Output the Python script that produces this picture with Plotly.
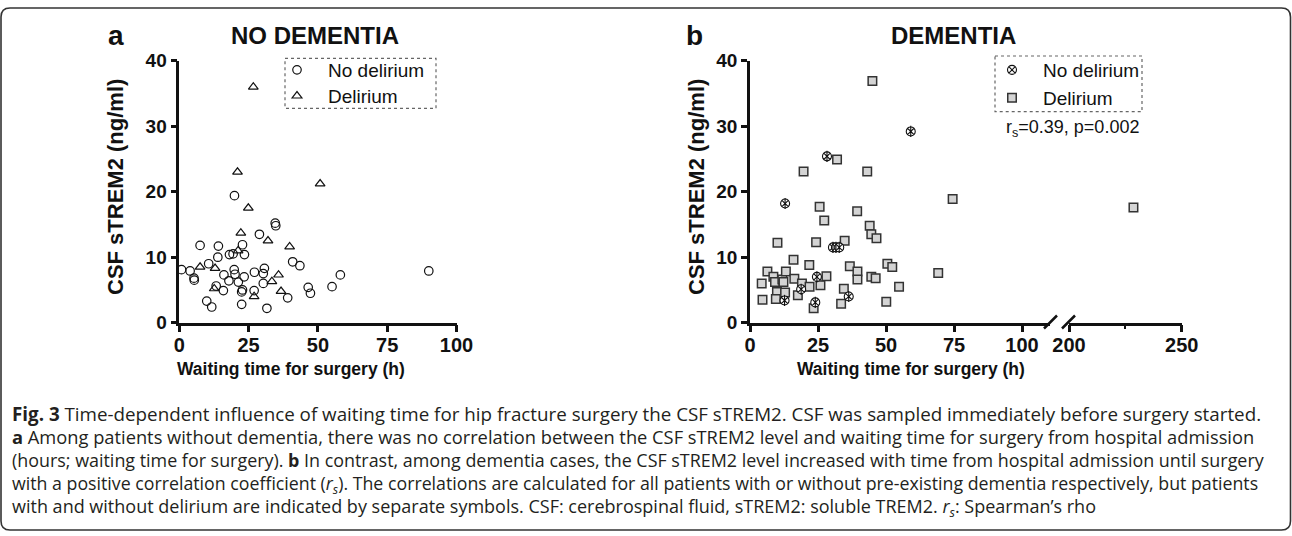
import plotly.graph_objects as go

# ---------------- data ----------------
# Panel a: NO DEMENTIA
a_nodel_x = [0.8, 3.9, 5.3, 5.4, 7.5, 10.6, 9.9, 11.7, 13.3, 13.9, 14.1, 15.9, 16.1, 17.9,
             18.1, 19.4, 19.8, 19.9, 20.1, 21.3, 22.5, 22.8, 22.5, 22.8, 23.5, 23.4, 27.1,
             27.0, 28.9, 30.3, 30.7, 30.3, 31.6, 34.6, 34.8, 39.1, 40.9, 43.5, 46.5, 47.3,
             55.1, 58.1, 90.0]
a_nodel_y = [8.1, 7.9, 6.8, 6.5, 11.8, 9.0, 3.3, 2.4, 5.6, 10.0, 11.7, 4.9, 7.3, 6.4,
             10.4, 10.5, 8.1, 19.4, 7.4, 6.2, 4.7, 5.0, 2.8, 11.9, 10.4, 7.0, 7.7,
             4.9, 13.5, 7.5, 8.3, 6.0, 2.2, 15.2, 14.8, 3.8, 9.3, 8.7, 5.4, 4.5,
             5.5, 7.3, 7.9]
a_del_x = [26.7, 21.0, 50.8, 24.9, 22.2, 32.0, 39.8, 21.2, 7.5, 12.9, 35.8, 33.4, 36.7, 27.0, 12.6]
a_del_y = [36.0, 23.0, 21.2, 17.5, 13.7, 12.5, 11.6, 11.0, 8.5, 8.3, 7.3, 6.3, 4.8, 4.0, 5.2]

# Panel b: DEMENTIA
b_nodel_x = [12.9, 28.3, 59.1, 30.5, 31.6, 32.8, 24.6, 18.8, 12.7, 24.0, 36.3]
b_nodel_y = [18.2, 25.4, 29.2, 11.5, 11.5, 11.5, 7.0, 5.1, 3.4, 3.1, 4.0]
b_del_x = [4.3, 4.6, 6.4, 8.6, 9.2, 9.9, 9.5, 10.1, 11.9, 12.3, 13.2, 12.9, 16.0, 16.3,
           17.6, 19.1, 19.7, 21.8, 21.9, 23.4, 24.3, 25.6, 25.9, 27.3, 28.1, 32.0, 33.5,
           34.5, 34.8, 36.7, 39.4, 39.5, 39.5, 43.1, 44.0, 44.6, 44.6, 45.0, 46.2, 46.5,
           50.1, 50.5, 52.3, 54.8, 69.2, 74.5, 228.6]
b_del_y = [6.0, 3.5, 7.8, 7.0, 6.2, 4.7, 3.6, 12.2, 6.6, 6.2, 7.8, 4.6, 9.6, 6.7,
           4.2, 6.0, 23.1, 8.8, 5.5, 2.2, 12.3, 17.7, 5.7, 15.6, 7.1, 24.9, 2.9,
           5.2, 12.5, 8.6, 17.0, 7.8, 6.6, 23.1, 14.8, 13.5, 7.0, 36.9, 6.8, 12.9,
           3.2, 9.0, 8.5, 5.5, 7.6, 18.9, 17.6]

y_ticks = [0, 10, 20, 30, 40]
xa_ticks = [0, 25, 50, 75, 100]
xb2_ticks = [200, 250]
xb2_minor = [225]

titles = ["NO DEMENTIA", "DEMENTIA"]
panel_letters = ["a", "b"]
y_title = "CSF sTREM2 (ng/ml)"
x_title = "Waiting time for surgery (h)"
legend_labels = ["No delirium", "Delirium"]
stat_text = "r<sub>s</sub>=0.39, p=0.002"
caption_lines = [
    "<b>Fig. 3</b> Time-dependent influence of waiting time for hip fracture surgery the CSF sTREM2. CSF was sampled immediately before surgery started.",
    "<b>a</b> Among patients without dementia, there was no correlation between the CSF sTREM2 level and waiting time for surgery from hospital admission",
    "(hours; waiting time for surgery). <b>b</b> In contrast, among dementia cases, the CSF sTREM2 level increased with time from hospital admission until surgery",
    "with a positive correlation coefficient (<i>r<sub>s</sub></i>). The correlations are calculated for all patients with or without pre-existing dementia respectively, but patients",
    "with and without delirium are indicated by separate symbols. CSF: cerebrospinal fluid, sTREM2: soluble TREM2. <i>r<sub>s</sub></i>: Spearman\u2019s rho",
]
caption_sizes = [18.8, 18.3, 17.9, 17.75, 18.0]

# ---------------- layout helpers ----------------
W, H = 1292, 536
def px(x):
    return x / W
def py(y):
    return 1 - y / H

AR = "Arial, Liberation Sans, sans-serif"
BLACK = "#111111"

fig = go.Figure()

# panel a traces
fig.add_trace(go.Scatter(x=a_nodel_x, y=a_nodel_y, mode="markers", name=legend_labels[0],
                         marker=dict(symbol="circle-open", size=8.5, color=BLACK, line=dict(width=1.2)),
                         xaxis="x", yaxis="y", cliponaxis=False, legend="legend"))
fig.add_trace(go.Scatter(x=a_del_x, y=a_del_y, mode="markers", name=legend_labels[1],
                         marker=dict(symbol="triangle-up-open", size=8.5, color=BLACK, line=dict(width=1.2)),
                         xaxis="x", yaxis="y", cliponaxis=False, legend="legend2"))

# panel b traces: split the delirium series over the broken x axis
seg1_x = [x for x in b_del_x if x < 150]
seg1_y = [y for x, y in zip(b_del_x, b_del_y) if x < 150]
seg2_x = [x for x in b_del_x if x >= 150]
seg2_y = [y for x, y in zip(b_del_x, b_del_y) if x >= 150]

sq = dict(symbol="square", size=8.5, color="#d4d4d4", line=dict(width=1.5, color="#333333"))
fig.add_trace(go.Scatter(x=seg1_x, y=seg1_y, mode="markers", name=legend_labels[1], marker=sq,
                         xaxis="x2", yaxis="y2", cliponaxis=False, legend="legend4"))
fig.add_trace(go.Scatter(x=seg2_x, y=seg2_y, mode="markers", marker=sq, showlegend=False,
                         xaxis="x3", yaxis="y2", cliponaxis=False))
fig.add_trace(go.Scatter(x=b_nodel_x, y=b_nodel_y, mode="markers", name=legend_labels[0],
                         marker=dict(symbol="circle-x", size=9, color="white",
                                     line=dict(width=1.1, color=BLACK)),
                         xaxis="x2", yaxis="y2", cliponaxis=False, legend="legend3"))
fig.add_trace(go.Scatter(x=b_nodel_x, y=b_nodel_y, mode="markers", showlegend=False,
                         marker=dict(symbol="line-ns-open", size=8, color=BLACK, line=dict(width=1.1)),
                         xaxis="x2", yaxis="y2", cliponaxis=False))

# ---------------- axes ----------------
ax_common = dict(showline=True, linewidth=2.5, linecolor=BLACK, ticks="outside", tickwidth=2.5,
                 tickcolor=BLACK, showgrid=False, zeroline=False, fixedrange=True, automargin=False,
                 tickfont=dict(family=AR, size=20, color=BLACK, weight="bold"))
x_extra = dict(ticklen=7, ticklabelstandoff=-4)

ya_dom = [py(322.7), py(60.7)]
fig.update_layout(
    xaxis=dict(ax_common, **x_extra, domain=[px(179.3), px(456.5)], range=[0, 100], tickvals=xa_ticks,
               anchor="y"),
    yaxis=dict(ax_common, domain=ya_dom, range=[0, 40], tickvals=y_ticks, ticklen=6, anchor="x",
               tickfont=dict(family=AR, size=19, color=BLACK, weight="bold")),
    xaxis2=dict(ax_common, **x_extra, domain=[px(750), px(1050)], range=[0, 300 / 2.72], tickvals=xa_ticks,
                anchor="y2"),
    xaxis3=dict(ax_common, **x_extra, domain=[px(1069), px(1181.7)], range=[200, 250], tickvals=xb2_ticks,
                anchor="y2",
                minor=dict(tickvals=xb2_minor, ticklen=3.5, tickwidth=2, tickcolor=BLACK, ticks="outside")),
    yaxis2=dict(ax_common, domain=ya_dom, range=[0, 40], tickvals=y_ticks, ticklen=6, anchor="x2",
                tickfont=dict(family=AR, size=19, color=BLACK, weight="bold")),
)

# ---------------- legends (one entry each so they can be placed freely) ----------------
def leg(xc, yc):
    return dict(x=px(xc - 31), y=py(yc), xanchor="left", yanchor="middle", bgcolor="rgba(0,0,0,0)",
                borderwidth=0, itemwidth=52, font=dict(family=AR, size=19, color=BLACK))

fig.update_layout(legend=leg(297, 70), legend2=leg(297, 96),
                  legend3=leg(1012, 70), legend4=leg(1012, 98))

# ---------------- shapes ----------------
shapes = []
# dotted legend frames
for (x0, y0, x1, y1) in [(285, 58.3, 436, 108.3), (995, 56, 1142, 111.7)]:
    shapes.append(dict(type="rect", xref="paper", yref="paper", x0=px(x0), x1=px(x1), y0=py(y0), y1=py(y1),
                       line=dict(color="#666666", width=1.2, dash="dot")))
# axis break slashes
for (x0, y0, x1, y1) in [(1044, 328.5, 1057, 315.5), (1062, 328.5, 1075, 315.5)]:
    shapes.append(dict(type="line", xref="paper", yref="paper", x0=px(x0), x1=px(x1), y0=py(y0), y1=py(y1),
                       line=dict(color=BLACK, width=2.5)))
# rounded outer frame
r = 9
L, T, R, B = 1, 8, 1290.5, 530
pts = (f"M {px(L)},{py(T + r)} Q {px(L)},{py(T)} {px(L + r)},{py(T)} "
       f"L {px(R - r)},{py(T)} Q {px(R)},{py(T)} {px(R)},{py(T + r)} "
       f"L {px(R)},{py(B - r)} Q {px(R)},{py(B)} {px(R - r)},{py(B)} "
       f"L {px(L + r)},{py(B)} Q {px(L)},{py(B)} {px(L)},{py(B - r)} Z")
shapes.append(dict(type="path", xref="paper", yref="paper", path=pts, line=dict(color="#333333", width=1.6)))
fig.update_layout(shapes=shapes)

# ---------------- text ----------------
ann = []
def text(t, x, y, size, bold=False, family=AR, xanchor="center", angle=0, color=BLACK, align="center"):
    ann.append(dict(text=t, x=px(x), y=py(y), xref="paper", yref="paper", showarrow=False,
                    xanchor=xanchor, yanchor="middle", textangle=angle, align=align,
                    font=dict(family=family, size=size, color=color, weight="bold" if bold else "normal")))

text(panel_letters[0], 116, 35, 28, bold=True)
text(panel_letters[1], 694, 35, 28, bold=True)
text(titles[0], 315, 36, 24, bold=True)
text(titles[1], 953, 36, 24, bold=True)
text(y_title, 115, 187, 22, bold=True, angle=-90)
text(y_title, 696, 187, 22, bold=True, angle=-90)
text(x_title, 291, 369, 17.5, bold=True)
text(x_title, 911, 369, 17.5, bold=True)
text(stat_text, 1004, 128, 18, xanchor="left")

CAP = "Open Sans, Noto Sans, sans-serif"
caption = "<br>".join(f"<span style='font-size:{s}px'>{t}</span>" for t, s in zip(caption_lines, caption_sizes))
text(caption, 10, 461, 17.7, family=CAP, xanchor="left", color="#231f20", align="left")

fig.update_layout(annotations=ann, width=W, height=H,
                  margin=dict(l=0, r=0, t=0, b=0, pad=0, autoexpand=False),
                  paper_bgcolor="white", plot_bgcolor="white", showlegend=True)

pin = (
    "document.documentElement.style.margin='0';document.documentElement.style.padding='0';"
    "document.body.style.margin='0';document.body.style.padding='0';document.body.style.overflow='hidden';"
)
fig.write_html("out.html", config={"displayModeBar": False}, post_script=pin)
